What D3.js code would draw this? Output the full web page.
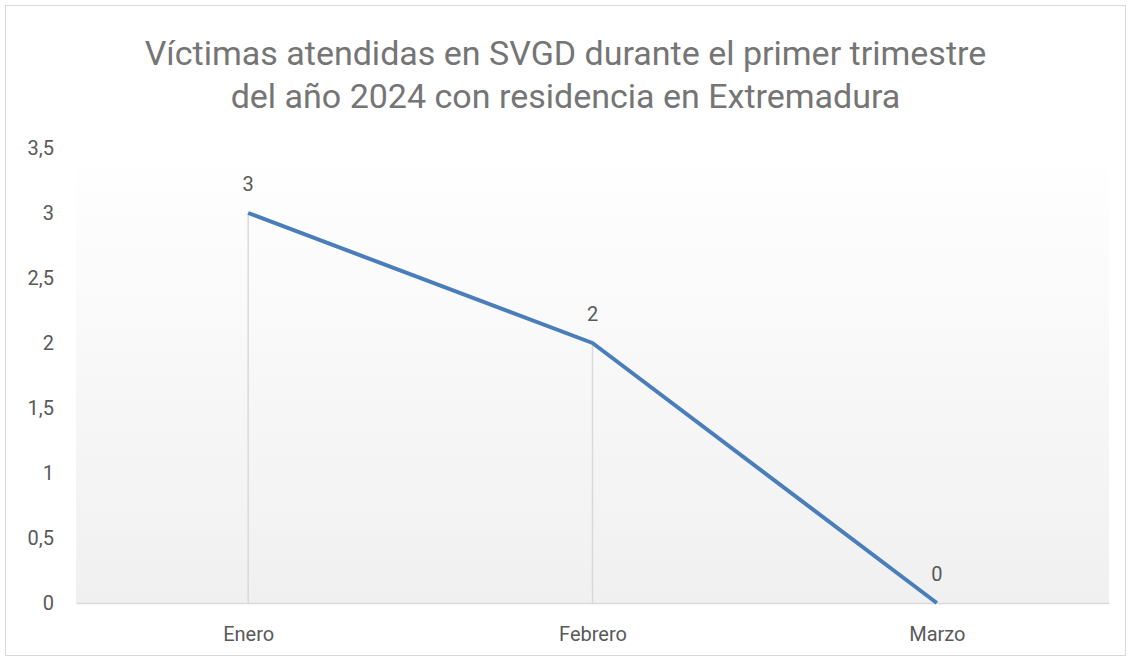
<!DOCTYPE html>
<html lang="es">
<head>
    <meta charset="UTF-8">
    <title>Víctimas atendidas en SVGD</title>
    <script src="https://d3js.org/d3.v7.min.js"></script>
    <style>
        body { margin: 0; background: #fff; }
        text { font-family: Roboto, "Noto Sans", sans-serif; }
    </style>
</head>
<body>
    <div id="chart"></div>
    <script>
        // datos
        const meses = ["Enero", "Febrero", "Marzo"];
        const victimas = [3, 2, 0];
        const yTicks = [0, 0.5, 1, 1.5, 2, 2.5, 3, 3.5];
        const titulo = ["Víctimas atendidas en SVGD durante el primer trimestre",
                        "del año 2024 con residencia en Extremadura"];

        const W = 1131, H = 661;
        const margin = {top: 148, right: 22, bottom: 58, left: 76};
        const width = W - margin.left - margin.right,
              height = H - margin.top - margin.bottom;

        const svg = d3.select("#chart").append("svg")
            .attr("width", W).attr("height", H);

        // marco
        svg.append("rect")
            .attr("x", 5.5).attr("y", 5.5)
            .attr("width", W - 11).attr("height", H - 11)
            .attr("fill", "#fff").attr("stroke", "#d9d9d9");

        const defs = svg.append("defs");
        const grad = defs.append("linearGradient")
            .attr("id", "fondo").attr("x1", 0).attr("y1", 0).attr("x2", 0).attr("y2", 1);
        grad.append("stop").attr("offset", "0%").attr("stop-color", "#ffffff");
        grad.append("stop").attr("offset", "100%").attr("stop-color", "#f0f0f0");

        // título
        svg.append("text")
            .attr("x", W / 2).attr("y", 65)
            .attr("text-anchor", "middle")
            .attr("font-size", 34).attr("fill", "#757575")
            .selectAll("tspan").data(titulo).join("tspan")
            .attr("x", W / 2).attr("dy", (d, i) => i ? 43 : 0)
            .text(d => d);

        const g = svg.append("g")
            .attr("transform", `translate(${margin.left},${margin.top})`);

        g.append("rect")
            .attr("width", width).attr("height", height)
            .attr("fill", "url(#fondo)");

        const x = d3.scalePoint()
            .domain(meses)
            .range([0, width])
            .padding(0.5);

        const y = d3.scaleLinear()
            .domain([0, 3.5])
            .range([height, 0]);

        const fmt = d => String(d).replace(".", ",");

        // eje Y
        const yAxis = g.append("g")
            .call(d3.axisLeft(y).tickValues(yTicks).tickFormat(fmt).tickSize(0).tickPadding(22));
        yAxis.select(".domain").remove();
        yAxis.selectAll("text")
            .attr("font-size", 20).attr("fill", "#595959")
            .style("font-family", "Roboto, sans-serif");

        // eje X
        const xAxis = g.append("g")
            .attr("transform", `translate(0,${height})`)
            .call(d3.axisBottom(x).tickSize(0).tickPadding(24));
        xAxis.select(".domain").attr("stroke", "#d9d9d9").attr("stroke-width", 1.5);
        xAxis.selectAll("text")
            .attr("font-size", 20).attr("fill", "#595959")
            .style("font-family", "Roboto, sans-serif");

        const datos = meses.map((m, i) => ({mes: m, valor: victimas[i]}));

        // líneas de proyección
        g.selectAll(".drop")
            .data(datos)
            .join("line")
            .attr("class", "drop")
            .attr("x1", d => x(d.mes)).attr("x2", d => x(d.mes))
            .attr("y1", d => y(d.valor)).attr("y2", height)
            .attr("stroke", "#d9d9d9").attr("stroke-width", 1.5);

        // serie
        g.append("path")
            .datum(datos)
            .attr("fill", "none")
            .attr("stroke", "#4a7ebb")
            .attr("stroke-width", 4)
            .attr("stroke-linejoin", "round")
            .attr("d", d3.line().x(d => x(d.mes)).y(d => y(d.valor)));

        // etiquetas
        g.selectAll(".lbl")
            .data(datos)
            .join("text")
            .attr("class", "lbl")
            .attr("x", d => x(d.mes))
            .attr("y", d => y(d.valor) - 22)
            .attr("text-anchor", "middle")
            .attr("font-size", 20).attr("fill", "#595959")
            .text(d => fmt(d.valor));
    </script>
</body>
</html>
